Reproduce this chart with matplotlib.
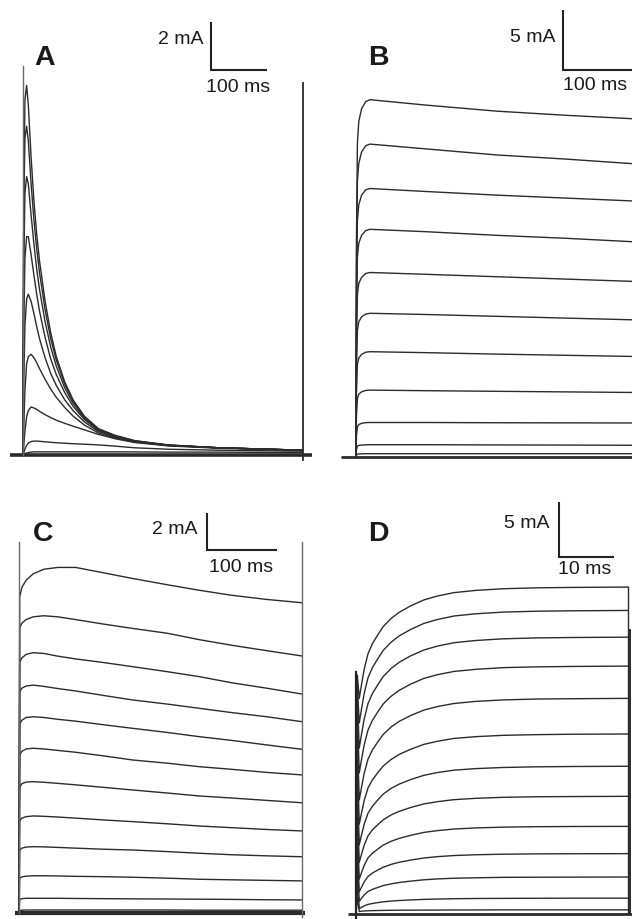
import matplotlib
matplotlib.use("Agg")
import matplotlib.pyplot as plt

plt.rcParams['font.family'] = ['Liberation Sans', 'DejaVu Sans']

W, H = 632, 919

# ---------------- Panel A (transient current, 500 ms pulses) ----------------
tA = [0, 2, 4, 7, 10, 15, 20, 25, 30, 40, 50, 60, 75, 90, 110, 135, 165, 200, 260, 350, 499]
A_traces = [
    [0, 11.5, 14.8, 15.4, 14.6, 12.4, 10.6, 9.2, 8.1, 6.4, 5.1, 4.1, 3.05, 2.3, 1.62, 1.1, 0.82, 0.6, 0.42, 0.3, 0.2],
    [0, 10.5, 13.2, 13.7, 13.1, 11.3, 9.8, 8.6, 7.6, 6.05, 4.85, 3.95, 2.95, 2.24, 1.58, 1.08, 0.8, 0.59, 0.41, 0.3, 0.2],
    [0, 8.0, 10.9, 11.6, 11.3, 10.0, 8.8, 7.75, 6.9, 5.55, 4.5, 3.7, 2.8, 2.15, 1.54, 1.06, 0.79, 0.58, 0.41, 0.3, 0.2],
    [0, 5.5, 8.2, 9.1, 9.1, 8.35, 7.5, 6.7, 6.0, 4.9, 4.0, 3.35, 2.6, 2.03, 1.48, 1.03, 0.77, 0.57, 0.41, 0.3, 0.2],
    [0, 3.2, 5.4, 6.5, 6.7, 6.4, 5.9, 5.35, 4.85, 4.05, 3.4, 2.9, 2.3, 1.85, 1.38, 0.98, 0.74, 0.56, 0.4, 0.3, 0.2],
    [0, 1.2, 2.7, 3.8, 4.1, 4.2, 4.05, 3.85, 3.6, 3.15, 2.75, 2.4, 1.98, 1.62, 1.25, 0.92, 0.7, 0.54, 0.39, 0.3, 0.2],
    [0, 0.4, 1.0, 1.6, 1.85, 2.0, 1.96, 1.9, 1.82, 1.68, 1.56, 1.45, 1.32, 1.2, 1.05, 0.86, 0.68, 0.52, 0.38, 0.28, 0.2],
    [0, 0.1, 0.25, 0.4, 0.5, 0.56, 0.58, 0.58, 0.57, 0.55, 0.53, 0.51, 0.49, 0.47, 0.45, 0.42, 0.37, 0.3, 0.24, 0.2, 0.16],
    [0, 0.03, 0.06, 0.08, 0.1, 0.12, 0.13, 0.13, 0.13, 0.13, 0.13, 0.13, 0.13, 0.13, 0.13, 0.13, 0.13, 0.13, 0.12, 0.12, 0.1],
]
A_base = [-23, 517]
A_spike_on, A_spike_off = 16.2, 15.5
A_pulse_end = 500

# ---------------- Panel B (sustained current) ----------------
tB = [0, 0.6, 2, 4, 8, 14, 20, 100, 200, 300, 400]
B_traces = [
    [0, 17.9, 26.2, 28.0, 29.05, 29.65, 29.8, 29.35, 28.85, 28.5, 28.2],
    [0, 15.7, 23.0, 24.5, 25.45, 25.97, 26.1, 25.7, 25.2, 24.85, 24.45],
    [0, 13.4, 19.7, 21.05, 21.85, 22.3, 22.4, 22.15, 21.85, 21.6, 21.35],
    [0, 11.4, 16.7, 17.85, 18.5, 18.9, 19.0, 18.8, 18.5, 18.25, 17.95],
    [0, 9.2, 13.55, 14.5, 15.0, 15.32, 15.4, 15.25, 15.05, 14.85, 14.65],
    [0, 7.2, 10.55, 11.3, 11.7, 11.94, 12.0, 11.9, 11.75, 11.6, 11.45],
    [0, 5.3, 7.75, 8.27, 8.58, 8.76, 8.8, 8.72, 8.6, 8.5, 8.4],
    [0, 3.4, 4.93, 5.26, 5.46, 5.57, 5.6, 5.55, 5.5, 5.45, 5.4],
    [0, 1.75, 2.55, 2.73, 2.83, 2.89, 2.9, 2.9, 2.88, 2.87, 2.86],
    [0, 0.63, 0.92, 0.99, 1.02, 1.04, 1.05, 1.05, 1.03, 1.02, 1.0],
    [0, 0.18, 0.26, 0.28, 0.29, 0.3, 0.3, 0.3, 0.3, 0.3, 0.3],
]
B_base = [-21, 420]

# ---------------- Panel C (400 ms pulses) ----------------
tC = [0, 1, 4, 10, 20, 35, 55, 80, 120, 160, 210, 255, 300, 350, 400]
C_traces = [
    [0, 17.3, 17.8, 18.2, 18.55, 18.8, 18.9, 18.9, 18.6, 18.3, 17.95, 17.65, 17.38, 17.15, 16.97],
    [0, 15.6, 15.85, 16.05, 16.2, 16.26, 16.2, 16.05, 15.8, 15.57, 15.3, 14.95, 14.65, 14.35, 14.06],
    [0, 13.7, 13.95, 14.15, 14.24, 14.2, 14.05, 13.9, 13.7, 13.48, 13.2, 12.93, 12.6, 12.3, 11.98],
    [0, 12.1, 12.3, 12.42, 12.47, 12.4, 12.28, 12.15, 11.9, 11.66, 11.43, 11.2, 10.97, 10.74, 10.47],
    [0, 10.35, 10.55, 10.7, 10.74, 10.7, 10.6, 10.5, 10.3, 10.11, 9.88, 9.65, 9.45, 9.2, 8.96],
    [0, 8.65, 8.85, 8.98, 9.02, 8.98, 8.9, 8.8, 8.6, 8.38, 8.2, 8.01, 7.87, 7.7, 7.56],
    [0, 6.9, 7.08, 7.17, 7.19, 7.16, 7.1, 7.02, 6.88, 6.74, 6.57, 6.41, 6.3, 6.17, 6.04],
    [0, 5.05, 5.2, 5.28, 5.32, 5.3, 5.26, 5.2, 5.1, 5.01, 4.89, 4.77, 4.68, 4.58, 4.5],
    [0, 3.45, 3.56, 3.62, 3.64, 3.63, 3.6, 3.56, 3.5, 3.46, 3.37, 3.28, 3.2, 3.14, 3.09],
    [0, 1.92, 1.99, 2.03, 2.05, 2.05, 2.04, 2.02, 2.0, 1.97, 1.92, 1.86, 1.83, 1.8, 1.77],
    [0, 0.75, 0.8, 0.82, 0.82, 0.82, 0.82, 0.81, 0.8, 0.79, 0.78, 0.77, 0.76, 0.74, 0.73],
    [0, 0.15, 0.17, 0.18, 0.18, 0.18, 0.18, 0.18, 0.18, 0.18, 0.18, 0.17, 0.17, 0.17, 0.17],
]
C_base = [-6, 404]
C_spike_on, C_spike_off = 20.3, 20.3
C_pulse_end = 400

# ---------------- Panel D (50 ms pulses, activation) ----------------
tD = [0, 0.25, 0.6, 1.0, 1.5, 2.2, 3, 4, 5, 6.5, 8, 10, 12.5, 15, 18, 22, 27, 33, 40, 50]
D_traces = [
    [0, 21.5, 19.4, 20.6, 22.0, 23.4, 24.3, 25.1, 25.85, 26.6, 27.15, 27.7, 28.25, 28.6, 28.9, 29.1, 29.25, 29.33, 29.37, 29.4],
    [0, 20.5, 17.2, 18.41, 19.83, 21.24, 22.15, 22.96, 23.71, 24.47, 25.03, 25.58, 26.14, 26.49, 26.8, 27.0, 27.15, 27.23, 27.27, 27.3],
    [0, 19.5, 14.94, 16.14, 17.53, 18.92, 19.82, 20.62, 21.36, 22.11, 22.66, 23.21, 23.75, 24.1, 24.4, 24.6, 24.75, 24.83, 24.87, 24.9],
    [0, 18.0, 12.71, 13.86, 15.2, 16.55, 17.41, 18.18, 18.9, 19.61, 20.14, 20.67, 21.2, 21.53, 21.82, 22.01, 22.16, 22.23, 22.27, 22.3],
    [0, 16.0, 10.28, 11.37, 12.65, 13.93, 14.75, 15.48, 16.16, 16.85, 17.35, 17.85, 18.35, 18.67, 18.94, 19.13, 19.26, 19.34, 19.37, 19.4],
    [0, 14.0, 8.1, 9.07, 10.21, 11.34, 12.07, 12.72, 13.32, 13.93, 14.38, 14.82, 15.27, 15.55, 15.8, 15.96, 16.08, 16.14, 16.18, 16.2],
    [0, 12.0, 6.25, 7.1, 8.08, 9.07, 9.7, 10.27, 10.8, 11.33, 11.71, 12.1, 12.49, 12.74, 12.95, 13.09, 13.19, 13.25, 13.28, 13.3],
    [0, 10.0, 4.66, 5.37, 6.2, 7.04, 7.57, 8.05, 8.49, 8.94, 9.26, 9.59, 9.92, 10.12, 10.3, 10.42, 10.51, 10.56, 10.58, 10.6],
    [0, 8.0, 3.16, 3.73, 4.39, 5.06, 5.48, 5.86, 6.22, 6.57, 6.83, 7.09, 7.36, 7.52, 7.66, 7.76, 7.83, 7.87, 7.89, 7.9],
    [0, 6.0, 2.02, 2.43, 2.91, 3.39, 3.7, 3.98, 4.23, 4.49, 4.68, 4.87, 5.06, 5.18, 5.28, 5.35, 5.4, 5.43, 5.44, 5.45],
    [0, 4.5, 1.17, 1.43, 1.74, 2.04, 2.24, 2.41, 2.58, 2.74, 2.86, 2.98, 3.1, 3.18, 3.24, 3.28, 3.32, 3.33, 3.34, 3.35],
    [0, 3.0, 0.51, 0.62, 0.75, 0.89, 0.97, 1.05, 1.12, 1.19, 1.24, 1.29, 1.34, 1.37, 1.4, 1.42, 1.43, 1.44, 1.45, 1.45],
    [0, 1.5, 0.25, 0.28, 0.3, 0.32, 0.33, 0.34, 0.35, 0.36, 0.37, 0.37, 0.38, 0.38, 0.39, 0.39, 0.4, 0.4, 0.4, 0.4],
]
D_base = [-1.5, 51]
D_spike_on = 21.8
D_off_lines = [29.4, 25.5]
D_pulse_end = 50

# scale bars: (time length, current length, label time, label current)
scalebars = {
    'A': (100, 2, '100 ms', '2 mA'),
    'B': (100, 5, '100 ms', '5 mA'),
    'C': (100, 2, '100 ms', '2 mA'),
    'D': (10, 5, '10 ms', '5 mA'),
}

# ---------------- layout helpers ----------------
fig = plt.figure(figsize=(W / 100, H / 100), dpi=100)
fig.patch.set_facecolor('white')

TRACE = '#2b2b2b'
SPIKE = '#6a6a6a'
LW = 1.0


def panel(box, x0, ppms, y0, ppma):
    L, T, R, B = box
    ax = fig.add_axes([L / W, 1 - B / H, (R - L) / W, (B - T) / H])
    ax.set_xlim((L - x0) / ppms, (R - x0) / ppms)
    ax.set_ylim((y0 - B) / ppma, (y0 - T) / ppma)
    ax.axis('off')
    return ax


def draw_scalebar(ax, key, corner_px, ppms, ppma, x0, y0, lab_mA_px, lab_ms_px):
    tlen, ilen, tlab, ilab = scalebars[key]
    cx = (corner_px[0] - x0) / ppms
    cy = (y0 - corner_px[1]) / ppma
    ax.plot([cx, cx, cx + tlen], [cy + ilen, cy, cy], color='#222222', lw=1.5,
            solid_joinstyle='miter', solid_capstyle='butt', clip_on=True)
    fig.text(lab_mA_px[0] / W, 1 - lab_mA_px[1] / H, ilab, ha='right', va='center',
             fontsize=14, color='#1a1a1a')
    fig.text(lab_ms_px[0] / W, 1 - lab_ms_px[1] / H, tlab, ha='center', va='center',
             fontsize=14, color='#1a1a1a')


def letter(x, y, s):
    fig.text(x / W, 1 - y / H, s, ha='left', va='center', fontsize=20.5,
             fontweight='bold', color='#1a1a1a')


# ---- A ----
axA = panel((0, 0, 316, 470), 22.7, 0.56, 455, 24)
axA.plot(A_base, [0, 0], color=TRACE, lw=2.6, solid_capstyle='butt')
for tr in A_traces:
    axA.plot(tA, tr, color=TRACE, lw=LW)
axA.plot([0, 0], [0, A_spike_on], color=SPIKE, lw=1.0)
axA.plot([A_pulse_end, A_pulse_end], [-0.2, A_spike_off], color=TRACE, lw=1.3)
draw_scalebar(axA, 'A', (210.7, 70), 0.56, 24, 22.7, 455, (204, 40), (238, 87))
letter(34, 58, 'A')

# ---- B ----
axB = panel((316, 0, 632, 470), 356, 0.70, 457.3, 12)
axB.plot(B_base, [0, 0], color=TRACE, lw=2.0, solid_capstyle='butt')
for tr in B_traces:
    axB.plot(tB, tr, color=TRACE, lw=LW)
draw_scalebar(axB, 'B', (563, 70), 0.70, 12, 356, 457.3, (556, 37), (595, 85))
letter(368, 58, 'B')

# ---- C ----
axC = panel((0, 470, 316, 919), 19, 0.708, 913.3, 18.3)
axC.plot(C_base, [0, 0], color=TRACE, lw=3.0, solid_capstyle='butt')
for tr in C_traces:
    axC.plot(tC, tr, color=TRACE, lw=LW)
axC.plot([0, 0], [0, C_spike_on], color=SPIKE, lw=1.0)
axC.plot([C_pulse_end, C_pulse_end], [-0.2, C_spike_off], color=SPIKE, lw=1.0)
draw_scalebar(axC, 'C', (206.7, 550), 0.708, 18.3, 19, 913.3, (197, 530), (241, 567))
letter(33, 534, 'C')

# ---- D ----
axD = panel((316, 470, 632, 919), 356, 5.44, 914.3, 11.13)
axD.plot(D_base, [0, 0], color=TRACE, lw=2.0, solid_capstyle='butt')
for tr in D_traces:
    axD.plot(tD, tr, color=TRACE, lw=LW)
axD.plot([0, 0], [-0.3, D_spike_on], color='#222222', lw=1.6)
axD.plot([D_pulse_end, D_pulse_end], [0, D_off_lines[0]], color=TRACE, lw=1.0)
axD.plot([D_pulse_end + 0.3, D_pulse_end + 0.3], [0, D_off_lines[1]], color=TRACE, lw=1.4)
draw_scalebar(axD, 'D', (559.3, 557.3), 5.44, 11.13, 356, 914.3, (550, 523), (585, 570))
letter(368, 534, 'D')

fig.savefig('out.png', dpi=100, facecolor='white')
